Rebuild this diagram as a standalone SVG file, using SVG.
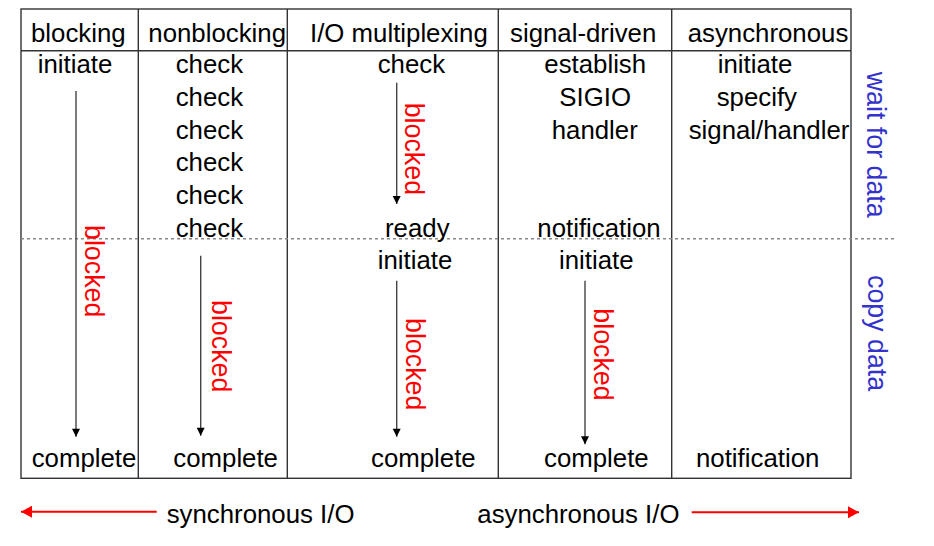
<svg xmlns="http://www.w3.org/2000/svg" width="934" height="546" viewBox="0 0 934 546">
<defs>
<style>
.t{font-family:"Liberation Sans",Arial,sans-serif;font-size:25.8px;fill:#000}
.v{font-family:"Liberation Sans",Arial,sans-serif;font-size:26.8px;fill:#ff0000}
.b{font-family:"Liberation Sans",Arial,sans-serif;font-size:26.8px;fill:#3333cc}
.grid{stroke:#333;stroke-width:1.4;fill:none}
.arr{stroke:#444;stroke-width:1.4;fill:none;marker-end:url(#ah)}
.red{stroke:#ff0000;stroke-width:2;fill:none;marker-end:url(#rh)}
</style>
<marker id="ah" markerUnits="userSpaceOnUse" markerWidth="10" markerHeight="12" refX="4" refY="10" orient="0" viewBox="0 0 8 12">
<path d="M0,2 L8,2 L4,10 Z" fill="#000"/>
</marker>
<marker id="rh" markerUnits="userSpaceOnUse" markerWidth="12" markerHeight="12" refX="11" refY="6" orient="auto" viewBox="0 0 12 12">
<path d="M0,0 L11,6 L0,12 Z" fill="#ff0000"/>
</marker>
</defs>
<rect width="934" height="546" fill="#fff"/>
<g id="table">
<rect class="grid" x="21" y="9" width="830" height="469.3"/>
<line class="grid" x1="21" y1="50.7" x2="851" y2="50.7"/>
<line class="grid" x1="138.3" y1="9" x2="138.3" y2="478.3"/>
<line class="grid" x1="287.3" y1="9" x2="287.3" y2="478.3"/>
<line class="grid" x1="498.3" y1="9" x2="498.3" y2="478.3"/>
<line class="grid" x1="671.7" y1="9" x2="671.7" y2="478.3"/>
<line x1="21" y1="238.7" x2="895" y2="238.7" stroke="#888" stroke-width="1.4" stroke-dasharray="3,3"/>
</g>
<g id="headers">
<text class="t" x="31" y="41.5">blocking</text>
<text class="t" x="148.3" y="41.5">nonblocking</text>
<text class="t" x="310" y="41.5">I/O multiplexing</text>
<text class="t" x="510" y="41.5">signal-driven</text>
<text class="t" x="687.7" y="41.5">asynchronous</text>
</g>
<g id="col-blocking">
<text class="t" x="37.7" y="73.3">initiate</text>
<text class="t" x="31.7" y="467.3">complete</text>
<text class="v" transform="translate(85,225) rotate(90)">blocked</text>
</g>
<g id="col-nonblocking">
<text class="t" x="175.7" y="73.3">check</text>
<text class="t" x="175.7" y="106">check</text>
<text class="t" x="175.7" y="138.5">check</text>
<text class="t" x="175.7" y="171">check</text>
<text class="t" x="175.7" y="203.5">check</text>
<text class="t" x="175.7" y="236.5">check</text>
<text class="t" x="173.3" y="467.3">complete</text>
<text class="v" transform="translate(211.5,300) rotate(90)">blocked</text>
</g>
<g id="col-multiplexing">
<text class="t" x="377.7" y="73.3">check</text>
<text class="t" x="385" y="236.5">ready</text>
<text class="t" x="377.7" y="269.3">initiate</text>
<text class="t" x="371" y="467.3">complete</text>
<text class="v" transform="translate(405,102.7) rotate(90)">blocked</text>
<text class="v" transform="translate(406,318) rotate(90)">blocked</text>
</g>
<g id="col-signal">
<text class="t" x="544.3" y="73.3">establish</text>
<text class="t" x="559.3" y="106">SIGIO</text>
<text class="t" x="551.7" y="138.5">handler</text>
<text class="t" x="537.3" y="236.5">notification</text>
<text class="t" x="559" y="269.3">initiate</text>
<text class="t" x="544" y="467.3">complete</text>
<text class="v" transform="translate(594,308.3) rotate(90)">blocked</text>
</g>
<g id="col-async">
<text class="t" x="717.7" y="73.3">initiate</text>
<text class="t" x="716.7" y="106">specify</text>
<text class="t" x="688.7" y="138.5">signal/handler</text>
<text class="t" x="696" y="467.3">notification</text>
</g>
<g id="phases">
<text class="b" transform="translate(867,71.7) rotate(90)">wait for data</text>
<text class="b" transform="translate(868,275) rotate(90)">copy data</text>
</g>
<g id="connectors">
<line class="arr" x1="76" y1="91" x2="76" y2="436.7" stroke="#777"/>
<line class="arr" x1="200.7" y1="255.7" x2="200.7" y2="435.7"/>
<line class="arr" x1="396.7" y1="82.7" x2="396.7" y2="204"/>
<line class="arr" x1="396.7" y1="280.7" x2="396.7" y2="436.7"/>
<line class="arr" x1="585" y1="280.7" x2="585" y2="444.3"/>
<line class="red" x1="156.7" y1="511.7" x2="21" y2="511.7"/>
<line class="red" x1="691.7" y1="512.3" x2="859" y2="512.3"/>
</g>
<g id="footer">
<text class="t" x="166.7" y="523.3">synchronous I/O</text>
<text class="t" x="477.3" y="523.3">asynchronous I/O</text>
</g>
</svg>
